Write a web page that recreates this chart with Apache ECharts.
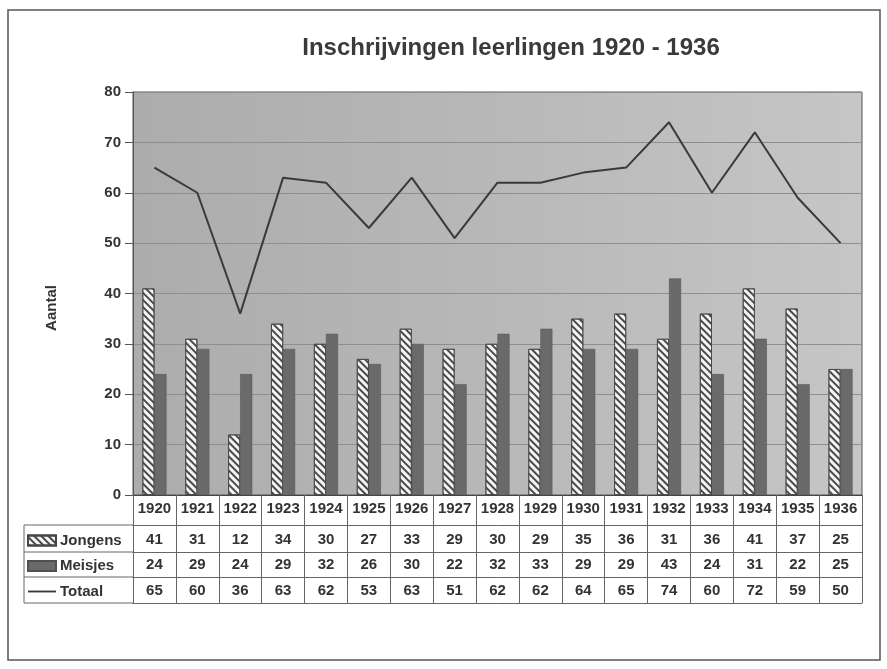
<!DOCTYPE html>
<html>
<head>
<meta charset="utf-8">
<script src="https://cdn.jsdelivr.net/npm/echarts@6/dist/echarts.min.js"></script>
<style>
html,body{margin:0;padding:0;background:#fff;}
#chart{width:887px;height:669px;}
</style>
</head>
<body>
<div id="chart"></div>
<script>
const years = ['1920','1921','1922','1923','1924','1925','1926','1927','1928','1929','1930','1931','1932','1933','1934','1935','1936'];
const jongens = [41,31,12,34,30,27,33,29,30,29,35,36,31,36,41,37,25];
const meisjes = [24,29,24,29,32,26,30,22,32,33,29,29,43,24,31,22,25];
const totaal = [65,60,36,63,62,53,63,51,62,62,64,65,74,60,72,59,50];
const yTicks = [0,10,20,30,40,50,60,70,80];

const chart = echarts.init(document.getElementById('chart'), null, {renderer:'canvas'});
const FONT = 'Liberation Sans, Arial, sans-serif';
const TXT = '#333';
const tableLine = {show:true, lineStyle:{color:'#666', width:1}};
const gridLeft = 133, gridRight = 862, gridTop = 92, gridBottom = 495;

function rowAxis(offset, values, margin) {
  return {
    type:'category', data: years, gridIndex:0, position:'bottom', offset: offset,
    axisLine: tableLine,
    axisTick: {show:false},
    axisLabel: {show: !!values, interval:0, margin: margin, fontFamily: FONT, fontWeight:'bold', fontSize:15, color:TXT,
      formatter: function(v, i){ return values ? String(values[i]) : ''; }},
    splitLine:{show:false}
  };
}

const option = {
  backgroundColor:'#fff',
  animation:false,
  title: {
    text:'Inschrijvingen leerlingen 1920 - 1936',
    left: 506, top: 31, textAlign:'center',
    textStyle:{fontFamily:FONT, fontWeight:'bold', fontSize:24, color:'#3a3a3a'}
  },
  legend: {
    orient:'vertical', left: 27, top: 533, padding: 0,
    itemWidth: 28, itemHeight: 10, itemGap: 10.5,
    textStyle:{fontFamily:FONT, fontWeight:'bold', fontSize:15, color:TXT, padding:[0,0,0,-1]},
    data:[
      {name:'Jongens', icon:'rect'},
      {name:'Meisjes', icon:'rect'},
      {name:'Totaal', icon:'path://M0,0 L30,0 L30,2 L0,2 Z'}
    ]
  },
  grid: {
    left: gridLeft, top: gridTop, width: gridRight - gridLeft, height: gridBottom - gridTop,
    show:true, borderColor:'#555', borderWidth:1,
    backgroundColor: {type:'linear', x:0, y:0, x2:1, y2:0, colorStops:[
      {offset:0, color:'#acacac'}, {offset:0.5, color:'#b8b8b8'}, {offset:1, color:'#c6c6c6'}]}
  },
  xAxis: [
    {
      type:'category', data: years, gridIndex:0, position:'bottom',
      axisLine:{show:true, lineStyle:{color:'#444', width:1}},
      axisTick:{show:true, interval:0, length:108, lineStyle:{color:'#666', width:1}},
      axisLabel:{interval:0, margin:6, fontFamily:FONT, fontWeight:'bold', fontSize:15, color:TXT},
      splitLine:{show:false}
    },
    rowAxis(30, jongens, 7),
    rowAxis(57, meisjes, 5),
    rowAxis(82, totaal, 6),
    rowAxis(108, null, 0)
  ],
  yAxis: {
    type:'value', min: yTicks[0], max: yTicks[yTicks.length-1], interval: 10,
    axisLine:{show:true, lineStyle:{color:'#555'}},
    axisTick:{show:true, length:8, lineStyle:{color:'#555'}},
    axisLabel:{margin:12, fontFamily:FONT, fontWeight:'bold', fontSize:15, color:TXT},
    splitLine:{show:true, lineStyle:{color:'#8e8e8e', width:1}}
  },
  series: [
    {
      name:'Jongens', type:'bar', xAxisIndex:0, data: jongens,
      barWidth: 12, barGap: '0%',
      itemStyle:{
        color:'#f4f4f4', borderColor:'#444', borderWidth:0.8,
        decal:{symbol:'rect', color:'#4a4a4a', dashArrayX:[1,0], dashArrayY:[2,3], rotation: Math.PI/4, symbolSize:1}
      }
    },
    {
      name:'Meisjes', type:'bar', xAxisIndex:0, data: meisjes,
      barWidth: 12, barGap: '0%',
      itemStyle:{color:'#6a6a6a', borderColor:'#505050', borderWidth:0.5}
    },
    {
      name:'Totaal', type:'line', xAxisIndex:0, data: totaal,
      symbol:'none', lineStyle:{color:'#3a3a3a', width:2}, itemStyle:{color:'#3a3a3a'}
    }
  ],
  graphic: [
    {type:'rect', shape:{x:8, y:10, width:872, height:650}, style:{fill:'none', stroke:'#555', lineWidth:1.5}, silent:true},
    {type:'text', x:52, y:308, rotation: Math.PI/2, style:{text:'Aantal', fill:TXT, font:'bold 15px Liberation Sans, Arial, sans-serif', textAlign:'center', textVerticalAlign:'middle'}},
    {type:'line', shape:{x1:24, y1:525, x2:gridLeft, y2:525}, style:{stroke:'#666', lineWidth:1}},
    {type:'line', shape:{x1:24, y1:552, x2:gridLeft, y2:552}, style:{stroke:'#666', lineWidth:1}},
    {type:'line', shape:{x1:24, y1:577, x2:gridLeft, y2:577}, style:{stroke:'#666', lineWidth:1}},
    {type:'line', shape:{x1:24, y1:603, x2:gridLeft, y2:603}, style:{stroke:'#666', lineWidth:1}},
    {type:'line', shape:{x1:24, y1:525, x2:24, y2:603}, style:{stroke:'#666', lineWidth:1}}
  ]
};
chart.setOption(option);
</script>
</body>
</html>
